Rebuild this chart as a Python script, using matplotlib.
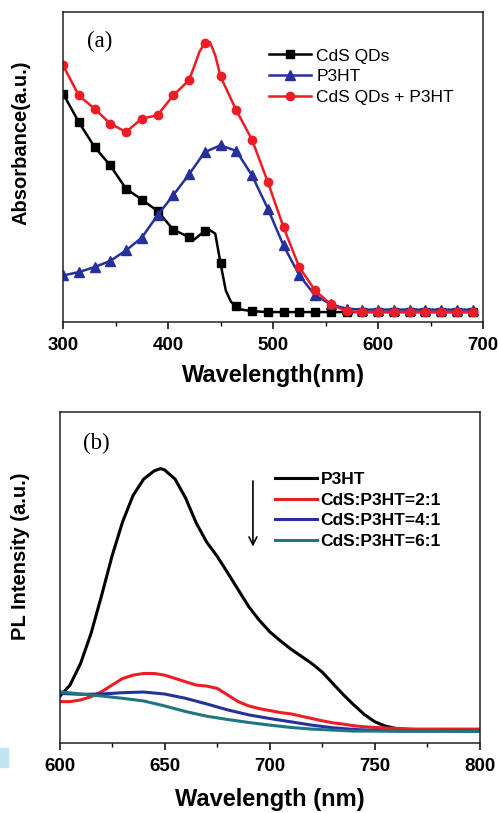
import matplotlib.pyplot as plt
from matplotlib.patches import Rectangle

# ---- panel (a): absorption ----
abs_wl = [300, 315, 330, 345, 360, 375, 390, 405, 420, 425, 430, 435, 440, 445,
          450, 455, 460, 465, 470, 480, 495, 510, 525, 540, 555, 570, 585, 600,
          615, 630, 645, 660, 675, 690]
cds_abs = [0.737, 0.645, 0.565, 0.505, 0.430, 0.395, 0.358, 0.298, 0.274, 0.266,
           0.280, 0.294, 0.296, 0.285, 0.190, 0.102, 0.065, 0.051, 0.040, 0.035,
           0.032, 0.032, 0.032, 0.032, 0.032, 0.032, 0.032, 0.032, 0.032, 0.032,
           0.032, 0.032, 0.032, 0.032]

p3ht_wl = [300, 315, 330, 345, 360, 375, 390, 405, 420, 435, 450, 465, 480, 495,
           510, 525, 540, 555, 570, 585, 600, 615, 630, 645, 660, 675, 690]
p3ht_abs = [0.150, 0.161, 0.177, 0.197, 0.231, 0.272, 0.344, 0.409, 0.476, 0.548,
            0.570, 0.552, 0.473, 0.366, 0.247, 0.151, 0.086, 0.057, 0.043, 0.040,
            0.040, 0.040, 0.040, 0.040, 0.040, 0.040, 0.040]

mix_wl = [300, 315, 330, 345, 360, 375, 390, 405, 420, 425, 430, 435, 440, 445,
          450, 465, 480, 495, 510, 525, 540, 555, 570, 585, 600, 615, 630, 645,
          660, 675, 690]
mix_abs = [0.828, 0.731, 0.688, 0.640, 0.613, 0.656, 0.667, 0.731, 0.780, 0.825,
           0.872, 0.900, 0.903, 0.860, 0.792, 0.683, 0.588, 0.452, 0.306, 0.177,
           0.102, 0.057, 0.035, 0.032, 0.032, 0.032, 0.032, 0.032, 0.032, 0.032,
           0.032]

# ---- panel (b): photoluminescence ----
pl_wl = [600, 605, 610, 615, 620, 625, 630, 635, 640, 645, 648, 650, 655, 660,
         665, 670, 675, 680, 685, 690, 695, 700, 705, 710, 715, 720, 725, 730,
         735, 740, 745, 750, 755, 760, 765, 770, 780, 790, 800]
pl_p3ht = [0.140, 0.175, 0.240, 0.331, 0.445, 0.565, 0.668, 0.748, 0.797, 0.822,
           0.829, 0.825, 0.797, 0.740, 0.665, 0.607, 0.564, 0.514, 0.463, 0.412,
           0.371, 0.336, 0.309, 0.284, 0.262, 0.240, 0.214, 0.180, 0.146, 0.115,
           0.086, 0.064, 0.051, 0.044, 0.041, 0.039, 0.039, 0.039, 0.039]

r21_wl = [600, 605, 610, 615, 620, 625, 630, 635, 640, 645, 650, 655, 660, 665,
          670, 675, 680, 685, 690, 695, 700, 705, 710, 715, 720, 725, 730, 735,
          740, 745, 750, 760, 770, 785, 800]
r21_pl = [0.125, 0.125, 0.130, 0.140, 0.155, 0.175, 0.195, 0.205, 0.210, 0.210,
          0.205, 0.195, 0.185, 0.175, 0.172, 0.165, 0.145, 0.125, 0.112, 0.104,
          0.098, 0.092, 0.088, 0.081, 0.074, 0.067, 0.061, 0.057, 0.052, 0.049,
          0.047, 0.044, 0.042, 0.042, 0.042]

r41_wl = [600, 610, 620, 630, 640, 650, 660, 670, 680, 690, 700, 710, 720, 730,
          740, 750, 760, 780, 800]
r41_pl = [0.150, 0.147, 0.148, 0.152, 0.154, 0.148, 0.135, 0.118, 0.100, 0.085,
          0.074, 0.064, 0.054, 0.046, 0.041, 0.038, 0.036, 0.036, 0.036]

r61_wl = [600, 610, 620, 630, 640, 650, 660, 670, 680, 690, 700, 710, 720, 730,
          740, 760, 780, 800]
r61_pl = [0.155, 0.148, 0.142, 0.135, 0.127, 0.112, 0.095, 0.081, 0.071, 0.062,
          0.054, 0.047, 0.042, 0.039, 0.036, 0.036, 0.036, 0.035]

RED = "#ee1c24"
BLUE = "#26309c"
TEAL = "#1f7580"
SANS = ["Liberation Sans", "DejaVu Sans"]
SERIF = ["Liberation Serif", "DejaVu Serif"]

plt.rcParams["font.family"] = SANS


def marks(wl, start, step=15):
    return [i for i, w in enumerate(wl) if (w - start) % step == 0]


def style_axes(ax, xlim, major, minor):
    ax.set_xlim(*xlim)
    ax.set_ylim(0, 1)
    ax.set_xticks(major)
    ax.set_xticks(minor, minor=True)
    ax.set_yticks([])
    ax.tick_params(axis="x", which="major", direction="out", length=5, width=1.1,
                   pad=6, labelsize=13.5)
    ax.tick_params(axis="x", which="minor", direction="out", length=3, width=1.0)
    for lab in ax.get_xticklabels():
        lab.set_fontweight("bold")
    for sp in ax.spines.values():
        sp.set_linewidth(1.1)
        sp.set_color("#222222")


fig = plt.figure(figsize=(4.98, 8.13), dpi=100)

W, H = 498, 813
ax1 = fig.add_axes([63 / W, 1 - 322 / H, 420 / W, 310 / H])
ax2 = fig.add_axes([59.5 / W, 1 - 743 / H, 420.5 / W, 331 / H])

# panel (a)
ax1.plot(abs_wl, cds_abs, color="black", lw=1.8, marker="s",
         ms=5.5, markevery=marks(abs_wl, 300), label="CdS QDs")
ax1.plot(p3ht_wl, p3ht_abs, color=BLUE, lw=1.8, marker="^", ms=6.5,
         label="P3HT")
ax1.plot(mix_wl, mix_abs, color=RED, lw=1.8, marker="o", ms=6,
         markevery=marks(mix_wl, 300), label="CdS QDs + P3HT")
style_axes(ax1, (300, 700), [300, 400, 500, 600, 700], [350, 450, 550, 650])
ax1.set_xlabel("Wavelength(nm)", fontsize=17, fontweight="bold", labelpad=7)
ax1.text(0.088, 0.905, "(a)", transform=ax1.transAxes, ha="center", va="center",
         fontsize=16.5, family=SERIF)
leg1 = ax1.legend(loc="upper left", bbox_to_anchor=(0.475, 0.905), frameon=False,
                  fontsize=12.5, handlelength=2.4, handletextpad=0.3,
                  labelspacing=0.32, borderaxespad=0)

# panel (b)
ax2.plot(pl_wl, pl_p3ht, color="black", lw=2.2, label="P3HT")
ax2.plot(r21_wl, r21_pl, color=RED, lw=2.2, label="CdS:P3HT=2:1")
ax2.plot(r41_wl, r41_pl, color=BLUE, lw=2.2, label="CdS:P3HT=4:1")
ax2.plot(r61_wl, r61_pl, color=TEAL, lw=2.2, label="CdS:P3HT=6:1")
style_axes(ax2, (600, 800), [600, 650, 700, 750, 800], [625, 675, 725, 775])
ax2.set_xlabel("Wavelength (nm)", fontsize=17, fontweight="bold", labelpad=9)
ax2.text(0.088, 0.905, "(b)", transform=ax2.transAxes, ha="center", va="center",
         fontsize=16.5, family=SERIF)
ax2.annotate("", xy=(692, 0.585), xytext=(692, 0.80),
             arrowprops=dict(arrowstyle="->", color="black", lw=1.2,
                             mutation_scale=14))
leg2 = ax2.legend(loc="upper left", bbox_to_anchor=(0.497, 0.84), frameon=False,
                  prop={"size": 12.5, "weight": "bold"}, handlelength=2.4,
                  handletextpad=0.2, labelspacing=0.32, borderaxespad=0)

fig.text(21 / W, 1 - 143 / H, "Absorbance(a.u.)", rotation=90, ha="center",
         va="center", fontsize=14.5, fontweight="bold")
fig.text(20 / W, 1 - 556 / H, "PL Intensity (a.u.)", rotation=90, ha="center",
         va="center", fontsize=14.5, fontweight="bold")

fig.patches.append(Rectangle((0, 1 - 767 / H), 8 / W, 19 / H,
                             transform=fig.transFigure, color="#bfe6ee",
                             zorder=0))

fig.savefig("out.png", dpi=100)
